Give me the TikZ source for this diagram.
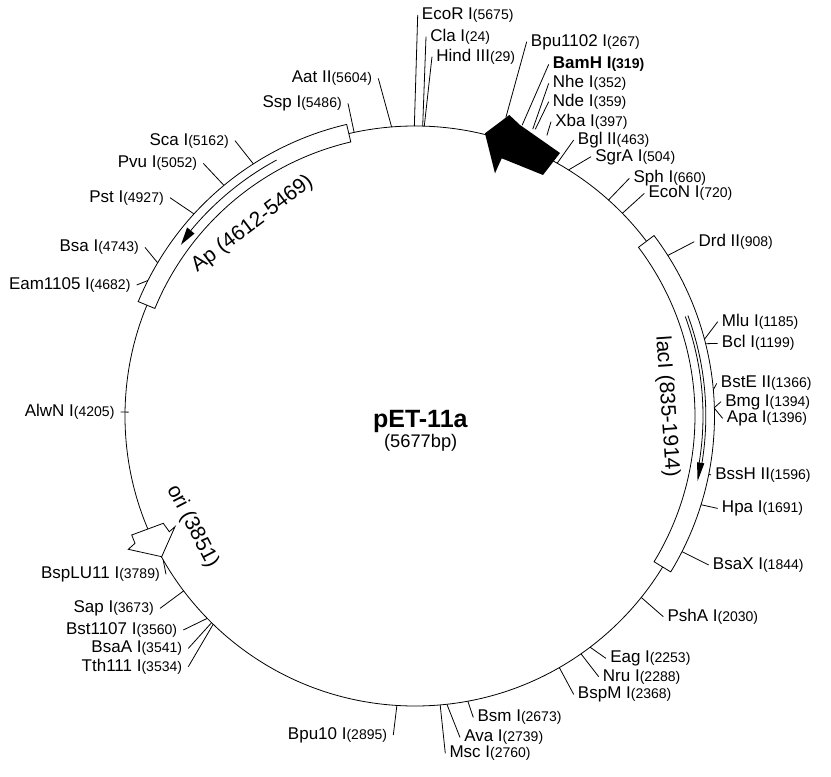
\documentclass[tikz,border=0pt]{standalone}
\usepackage{fontspec}
\setmainfont{Liberation Sans}
\newcommand\nm[2]{{\fontsize{12.75}{14}\selectfont #1}{\fontsize{10.5}{12}\selectfont(#2)}}
\newcommand\siteR[6]{%
  \coordinate (c#1) at ({415+(#3)*sin((#2)/5677*360)},{416-(#3)*cos((#2)/5677*360)});
  \node[lblR] (n#1) at (#4,#5) {#6};
  \draw[ln] (c#1) -- (n#1.west);}
\newcommand\siteL[6]{%
  \coordinate (c#1) at ({415+(#3)*sin((#2)/5677*360)},{416-(#3)*cos((#2)/5677*360)});
  \node[lblL] (n#1) at (#4,#5) {#6};
  \draw[ln] (c#1) -- (n#1.east);}
\tikzset{
  ln/.style={line width=0.6pt, draw=black},
  lblR/.style={anchor=west, inner xsep=3pt, inner ysep=0pt, text height=9.3pt, text depth=2.7pt},
  lblL/.style={anchor=east, inner xsep=4.5pt, inner ysep=0pt, text height=9.3pt, text depth=2.7pt},
  genelbl/.style={font=\fontsize{15.75}{17}\selectfont, inner sep=0pt},
}
\begin{document}
\begin{tikzpicture}[x=0.75pt,y=-0.75pt]
\fill[white] (0,0) rectangle (831,777);
\useasboundingbox (0,0) rectangle (831,777);
% backbone
\draw[ln] (415,416) circle[radius=217.5pt];
% Ap box
\draw[ln, fill=white] plot[domain=292.46:346.81, samples=60] ({415+299.5*sin(\x)},{416-299.5*cos(\x)})
  -- plot[domain=346.81:292.46, samples=60] ({415+281.5*sin(\x)},{416-281.5*cos(\x)}) -- cycle;
\draw[ln] plot[domain=331.6:309.6, samples=40] ({415+291*sin(\x)},{416-291*cos(\x)});
\fill ({415+295.8*sin(309.6)},{416-295.8*cos(309.6)}) -- ({415+286.2*sin(309.6)},{416-286.2*cos(309.6)})
  -- ({415+290*sin(306.2)},{416-290*cos(306.2)}) -- cycle;
% lacI box
\draw[ln, fill=white] plot[domain=52.95:121.37, samples=60] ({415+299.5*sin(\x)},{416-299.5*cos(\x)})
  -- plot[domain=121.37:52.95, samples=60] ({415+280*sin(\x)},{416-280*cos(\x)}) -- cycle;
\draw[ln] plot[domain=69.8:99.5, samples=40] ({415+288*sin(\x)},{416-288*cos(\x)});
\draw[ln] plot[domain=69.8:99.5, samples=40] ({415+290.8*sin(\x)},{416-290.8*cos(\x)});
\fill ({415+293.2*sin(99.3)},{416-293.2*cos(99.3)}) -- ({415+285.8*sin(99.3)},{416-285.8*cos(99.3)})
  -- ({415+290*sin(103)},{416-290*cos(103)}) -- cycle;
% black promoter arrow
\fill[black] (485,133.3) -- (509.3,115) -- (520,125) -- (560,153) -- (543,175) -- (501.7,158.3) -- (495,173.3) -- cycle;
% ori wedge
\draw[ln, fill=white] (131.7,535) -- (163.3,523.3) -- (169.3,531.7) -- (175,526.7) -- (161.7,556.7) -- (128.3,549.3) -- (135,543.3) -- cycle;
% gene labels
\node[genelbl, rotate=37] (apl) at (252.5,224.2) {Ap (4612-5469)};
\node[genelbl, rotate=-86] (lacl) at (666.7,406.7) {lacI (835-1914)};
\node[genelbl, rotate=-62.5] (oril) at (192.5,526.7) {ori (3851)};
% title
\node[anchor=base, inner sep=0pt, font=\bfseries\fontsize{18.75}{20}\selectfont] (title) at (420.3,427.7) {pET-11a};
\node[anchor=base, inner sep=0pt, font=\fontsize{13.7}{15}\selectfont] (bp) at (420.7,447.7) {(5677bp)};
% right side sites
\siteR{ecor}{5675}{290}{417.7}{15}{\nm{EcoR I}{5675}}
\siteR{cla}{24}{290}{426}{36.7}{\nm{Cla I}{24}}
\siteR{hind}{29}{290}{432}{56.7}{\nm{Hind III}{29}}
\siteR{bpu}{267}{312}{526.7}{41.7}{\nm{Bpu1102 I}{267}}
\siteR{bamh}{319}{310}{548.7}{64.4}{\bfseries\nm{BamH I}{319}}
\siteR{nhe}{352}{310}{548.7}{83.4}{\nm{Nhe I}{352}}
\siteR{nde}{359}{311}{548.7}{101.7}{\nm{Nde I}{359}}
\siteR{xba}{397}{310}{551}{121.7}{\nm{Xba I}{397}}
\siteR{bgl}{463}{290}{573.7}{140}{\nm{Bgl II}{463}}
\siteR{sgra}{504}{290}{591}{156.7}{\nm{SgrA I}{504}}
\siteR{sph}{660}{290}{629.3}{178.4}{\nm{Sph I}{660}}
\siteR{econ}{720}{290}{644.3}{193.4}{\nm{EcoN I}{720}}
\siteR{drd}{908}{299.5}{694.3}{241.7}{\nm{Drd II}{908}}
\siteR{mlu}{1185}{299.5}{717.7}{321.7}{\nm{Mlu I}{1185}}
\siteR{bcl}{1199}{299.5}{717.7}{343.4}{\nm{Bcl I}{1199}}
\siteR{bste}{1340}{299.5}{716.7}{383.4}{\nm{BstE II}{1366}}
\siteR{bmg}{1394}{299.5}{721}{401.7}{\nm{Bmg I}{1394}}
\siteR{apa}{1396}{299.5}{722.7}{418.4}{\nm{Apa I}{1396}}
\siteR{bssh}{1596}{299.5}{711}{475}{\nm{BssH II}{1596}}
\siteR{hpa}{1691}{299.5}{717.7}{508.4}{\nm{Hpa I}{1691}}
\siteR{bsax}{1844}{299.5}{708.7}{565}{\nm{BsaX I}{1844}}
\siteR{psha}{2030}{290}{663.3}{616.7}{\nm{PshA I}{2030}}
\siteR{eag}{2253}{290}{606}{658.4}{\nm{Eag I}{2253}}
\siteR{nru}{2288}{290}{598.7}{676.7}{\nm{Nru I}{2288}}
\siteR{bspm}{2368}{290}{573.7}{694.4}{\nm{BspM I}{2368}}
\siteR{bsm}{2673}{290}{473.3}{717.4}{\nm{Bsm I}{2673}}
\siteR{ava}{2739}{290}{460}{737.4}{\nm{Ava I}{2739}}
\siteR{msc}{2760}{290}{445.3}{753.4}{\nm{Msc I}{2760}}
% left side sites
\siteL{aat}{5604}{290}{378.3}{78.4}{\nm{Aat II}{5604}}
\siteL{ssp}{5486}{290}{348}{103.4}{\nm{Ssp I}{5486}}
\siteL{sca}{5162}{299.5}{235}{140.7}{\nm{Sca I}{5162}}
\siteL{pvu}{5052}{299.5}{203.3}{163.4}{\nm{Pvu I}{5052}}
\siteL{pst}{4927}{299.5}{170}{197.7}{\nm{Pst I}{4927}}
\siteL{bsa}{4743}{299.5}{145}{247.4}{\nm{Bsa I}{4743}}
\siteL{eam}{4682}{299.5}{136.7}{285}{\nm{Eam1105 I}{4682}}
\siteL{alwn}{4270}{286.5}{120.7}{412}{\nm{AlwN I}{4205}}
\siteL{bsplu}{3789}{290}{166}{574.4}{\nm{BspLU11 I}{3789}}
\siteL{sap}{3673}{290}{160}{608.4}{\nm{Sap I}{3673}}
\siteL{bst}{3560}{290}{183.3}{630}{\nm{Bst1107 I}{3560}}
\siteL{bsaa}{3541}{290}{188.3}{648.4}{\nm{BsaA I}{3541}}
\siteL{tth}{3534}{290}{188.3}{666.7}{\nm{Tth111 I}{3534}}
\siteL{bputen}{2895}{290}{393.3}{735}{\nm{Bpu10 I}{2895}}
\end{tikzpicture}
\end{document}
